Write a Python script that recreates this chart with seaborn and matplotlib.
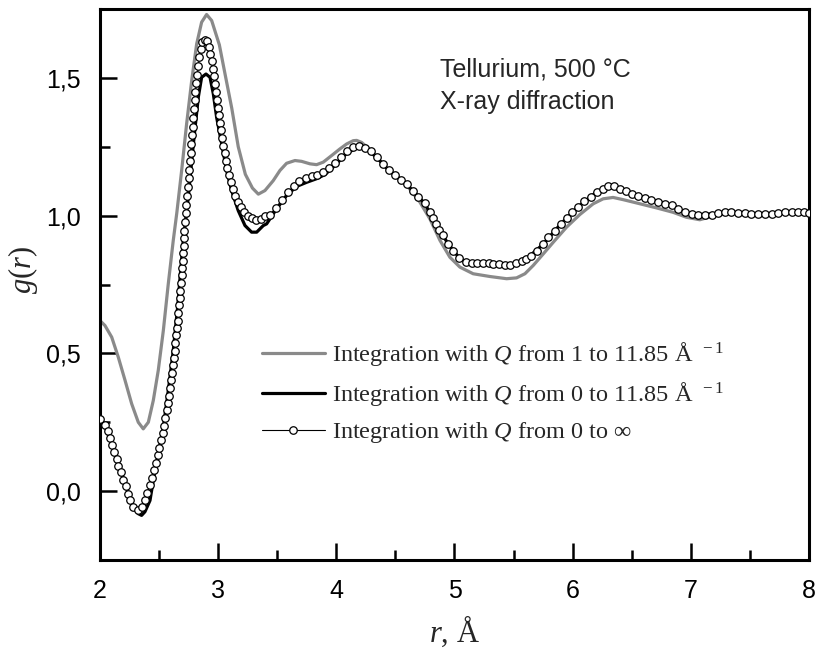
import matplotlib
matplotlib.use("Agg")
import matplotlib.pyplot as plt
import seaborn as sns
import numpy as np
from matplotlib.ticker import MultipleLocator, FuncFormatter
from matplotlib.font_manager import FontProperties

# ---------------- data ----------------
# Integration with Q from 1 to 11.85 A^-1 (grey line)
r_gray = [2.000, 2.042, 2.099, 2.155, 2.212, 2.268, 2.324, 2.366, 2.409, 2.451, 2.493,
          2.536, 2.578, 2.620, 2.650, 2.691, 2.733, 2.776, 2.818, 2.860, 2.902, 2.945,
          3.010, 3.060, 3.115, 3.170, 3.230, 3.290, 3.340, 3.396, 3.466, 3.523, 3.579,
          3.650, 3.706, 3.777, 3.833, 3.889, 3.960, 4.030, 4.087, 4.143, 4.172, 4.213,
          4.310, 4.390, 4.500, 4.600, 4.707, 4.792, 4.877, 4.961, 5.046, 5.158, 5.300,
          5.441, 5.525, 5.596, 5.666, 5.751, 5.835, 5.948, 6.061, 6.174, 6.258, 6.342,
          6.427, 6.569, 6.710, 6.850, 6.963, 7.076, 7.200, 7.350, 7.500, 7.650, 7.800, 8.000]
g_gray = [0.619, 0.601, 0.559, 0.486, 0.402, 0.317, 0.250, 0.226, 0.250, 0.329, 0.438,
          0.583, 0.753, 0.910, 1.010, 1.164, 1.333, 1.490, 1.623, 1.702, 1.730, 1.708,
          1.620, 1.510, 1.390, 1.250, 1.150, 1.100, 1.078, 1.091, 1.127, 1.164, 1.190,
          1.200, 1.197, 1.188, 1.185, 1.194, 1.218, 1.242, 1.260, 1.272, 1.273, 1.266,
          1.230, 1.188, 1.144, 1.108, 1.049, 0.988, 0.910, 0.849, 0.813, 0.789, 0.779,
          0.771, 0.774, 0.789, 0.819, 0.861, 0.903, 0.958, 1.004, 1.043, 1.061, 1.066,
          1.058, 1.043, 1.028, 1.012, 0.994, 0.985, 1.000, 1.009, 1.004, 1.004, 1.010, 1.008]

# Integration with Q from 0 to 11.85 A^-1 (black line)
r_black = [2.000, 2.042, 2.127, 2.212, 2.282, 2.324, 2.352, 2.380, 2.423, 2.451, 2.493,
           2.536, 2.578, 2.620, 2.657, 2.685, 2.705, 2.747, 2.790, 2.832, 2.860, 2.897,
           2.931, 2.959, 2.987, 3.030, 3.072, 3.114, 3.170, 3.227, 3.283, 3.326, 3.382,
           3.410, 3.495, 3.579, 3.664, 3.749, 3.833, 3.904, 3.988, 4.087, 4.172, 4.242,
           4.340, 4.440, 4.550, 4.650, 4.750, 4.840, 4.950, 5.040, 5.100, 5.300, 5.500,
           5.600, 5.750, 5.900, 6.050, 6.200, 6.320, 6.450, 6.600, 6.800, 6.950, 7.100,
           7.300, 7.500, 7.700, 7.900, 8.000]
g_black = [0.262, 0.238, 0.136, 0.027, -0.058, -0.082, -0.088, -0.075, -0.034, 0.039, 0.136,
           0.232, 0.365, 0.510, 0.668, 0.813, 0.910, 1.067, 1.260, 1.430, 1.502, 1.514,
           1.502, 1.442, 1.357, 1.260, 1.164, 1.091, 1.018, 0.964, 0.940, 0.940, 0.964,
           0.970, 1.025, 1.073, 1.106, 1.121, 1.134, 1.149, 1.182, 1.226, 1.246, 1.246,
           1.212, 1.166, 1.130, 1.090, 1.043, 0.970, 0.895, 0.847, 0.830, 0.826, 0.823,
           0.840, 0.896, 0.970, 1.033, 1.085, 1.105, 1.085, 1.066, 1.043, 1.012, 1.003,
           1.012, 1.007, 1.006, 1.012, 1.009]

# Integration with Q from 0 to infinity (open circles)
r_inf = [2.000, 2.042, 2.065, 2.085, 2.104, 2.121, 2.141, 2.155, 2.175, 2.197, 2.217,
         2.240, 2.254, 2.282, 2.324, 2.357, 2.381, 2.400, 2.423, 2.443, 2.459, 2.474,
         2.488, 2.502, 2.516, 2.530, 2.541, 2.552, 2.564, 2.572, 2.584, 2.592, 2.601,
         2.609, 2.618, 2.623, 2.632, 2.637, 2.646, 2.651, 2.657, 2.663, 2.668, 2.674,
         2.679, 2.685, 2.691, 2.696, 2.699, 2.705, 2.708, 2.709, 2.713, 2.719, 2.725,
         2.730, 2.736, 2.742, 2.750, 2.756, 2.761, 2.767, 2.773, 2.778, 2.784, 2.790,
         2.795, 2.801, 2.806, 2.815, 2.823, 2.832, 2.840, 2.852, 2.866, 2.886, 2.905,
         2.922, 2.933, 2.945, 2.953, 2.962, 2.970, 2.979, 2.987, 2.996, 3.004, 3.013,
         3.023, 3.032, 3.043, 3.055, 3.066, 3.077, 3.091, 3.106, 3.122, 3.142, 3.164,
         3.190, 3.218, 3.249, 3.283, 3.320, 3.359, 3.398, 3.438, 3.489, 3.537, 3.593,
         3.641, 3.686, 3.743, 3.791, 3.838, 3.889, 3.937, 3.988, 4.039, 4.087, 4.137,
         4.191, 4.242, 4.290, 4.341, 4.391, 4.445, 4.496, 4.544, 4.595, 4.645, 4.693,
         4.750, 4.792, 4.818, 4.843, 4.872, 4.900, 4.947, 4.990, 5.040, 5.096, 5.145,
         5.190, 5.240, 5.290, 5.330, 5.380, 5.430, 5.470, 5.520, 5.570, 5.608, 5.646,
         5.694, 5.745, 5.793, 5.850, 5.900, 5.948, 5.998, 6.046, 6.097, 6.151, 6.202,
         6.253, 6.300, 6.351, 6.400, 6.450, 6.498, 6.554, 6.611, 6.667, 6.724, 6.780,
         6.837, 6.893, 6.949, 7.006, 7.062, 7.119, 7.175, 7.231, 7.288, 7.344, 7.400,
         7.457, 7.513, 7.570, 7.626, 7.683, 7.739, 7.795, 7.852, 7.908, 7.956, 8.000]
g_inf = [0.263, 0.241, 0.218, 0.194, 0.168, 0.142, 0.118, 0.093, 0.069, 0.041, 0.017,
         -0.010, -0.034, -0.058, -0.068, -0.058, -0.031, -0.007, 0.021, 0.049, 0.075, 0.102,
         0.130, 0.157, 0.184, 0.210, 0.238, 0.266, 0.293, 0.319, 0.347, 0.375, 0.402,
         0.428, 0.456, 0.484, 0.510, 0.537, 0.565, 0.593, 0.619, 0.646, 0.674, 0.702,
         0.728, 0.755, 0.783, 0.811, 0.837, 0.865, 0.891, 0.918, 0.946, 0.976, 1.009,
         1.040, 1.072, 1.103, 1.135, 1.166, 1.197, 1.229, 1.260, 1.292, 1.323, 1.355,
         1.386, 1.418, 1.449, 1.480, 1.512, 1.543, 1.575, 1.605, 1.629, 1.639, 1.633,
         1.611, 1.587, 1.560, 1.533, 1.505, 1.476, 1.448, 1.420, 1.392, 1.364, 1.337,
         1.309, 1.281, 1.254, 1.226, 1.200, 1.173, 1.147, 1.121, 1.097, 1.073, 1.051,
         1.030, 1.014, 1.000, 0.991, 0.985, 0.986, 0.997, 1.004, 1.028, 1.055, 1.085,
         1.109, 1.125, 1.137, 1.143, 1.149, 1.157, 1.173, 1.190, 1.212, 1.234, 1.248,
         1.251, 1.246, 1.234, 1.212, 1.188, 1.164, 1.146, 1.130, 1.113, 1.091, 1.069,
         1.045, 1.012, 0.991, 0.970, 0.949, 0.928, 0.898, 0.871, 0.847, 0.831, 0.827,
         0.827, 0.827, 0.827, 0.825, 0.825, 0.821, 0.822, 0.827, 0.834, 0.842, 0.853,
         0.873, 0.898, 0.922, 0.946, 0.970, 0.992, 1.012, 1.033, 1.052, 1.069, 1.085,
         1.097, 1.106, 1.106, 1.097, 1.088, 1.080, 1.073, 1.065, 1.057, 1.049, 1.043,
         1.037, 1.025, 1.012, 1.006, 1.003, 1.003, 1.004, 1.009, 1.012, 1.012, 1.010,
         1.009, 1.006, 1.006, 1.006, 1.006, 1.009, 1.012, 1.012, 1.012, 1.012, 1.009]

labels = [r"Integration with $Q$ from 1 to 11.85 Å$^{\ \ -1}$",
          r"Integration with $Q$ from 0 to 11.85 Å$^{\ \ -1}$",
          r"Integration with $Q$ from 0 to ∞"]
annot_lines = ["Tellurium, 500 °C", "X-ray diffraction"]
x_ticks = [2, 3, 4, 5, 6, 7, 8]
y_ticks = [0.0, 0.5, 1.0, 1.5]

# ---------------- style ----------------
sns.set_style("ticks")
plt.rcParams["font.family"] = ["Liberation Sans", "DejaVu Sans"]
plt.rcParams["mathtext.fontset"] = "custom"
plt.rcParams["mathtext.rm"] = "Liberation Serif"
plt.rcParams["mathtext.it"] = "Liberation Serif:italic"
plt.rcParams["mathtext.bf"] = "Liberation Serif:bold"

fig = plt.figure(figsize=(8.18, 6.49), dpi=100)
ax = fig.add_axes([100 / 818, 1 - 560 / 649, 709 / 818, 551 / 649])

sns.lineplot(x=r_gray, y=g_gray, ax=ax, color="#8a8a8a", linewidth=2.3,
             estimator=None, sort=False, zorder=2, label=labels[0])
sns.lineplot(x=r_black, y=g_black, ax=ax, color="black", linewidth=2.3,
             estimator=None, sort=False, zorder=3, label=labels[1])
sns.lineplot(x=r_inf, y=g_inf, ax=ax, color="black", linewidth=0.8,
             marker="o", markersize=5.4, markerfacecolor="white",
             markeredgecolor="black", markeredgewidth=0.9,
             estimator=None, sort=False, zorder=4, label=labels[2])

ax.set_xlim(2, 8)
ax.set_ylim(-0.25, 1.75)
ax.xaxis.set_minor_locator(MultipleLocator(0.5))
ax.yaxis.set_minor_locator(MultipleLocator(0.25))
ax.set_xticks(x_ticks)
ax.set_yticks(y_ticks)
ax.xaxis.set_major_formatter(FuncFormatter(lambda v, _: f"{v:.0f}"))
ax.yaxis.set_major_formatter(FuncFormatter(lambda v, _: f"{v:.1f}".replace(".", ",")))

for s in ax.spines.values():
    s.set_linewidth(2.2)
    s.set_color("black")
    s.set_visible(True)
ax.tick_params(which="both", direction="in", top=False, right=False, width=1.8,
               colors="black", labelsize=18)
ax.tick_params(which="major", length=12)
ax.tick_params(which="minor", length=7)
ax.tick_params(axis="x", which="major", pad=13.5)
ax.tick_params(axis="y", which="major", pad=14)

ax.set_xlabel(r"$r$, Å", fontsize=22, family="Liberation Serif", labelpad=8)
ax.set_ylabel(r"$g(r)$", fontsize=22, family="Liberation Serif", labelpad=10)
ax.yaxis.set_label_coords(-0.085, 0.526)

ax.text(4.877, 1.505, annot_lines[0], fontsize=18, va="baseline", ha="left")
ax.text(4.877, 1.388, annot_lines[1], fontsize=18, va="baseline", ha="left")

leg = ax.legend(loc="upper left", bbox_to_anchor=(0.228, 0.399), frameon=False,
                prop=FontProperties(family="Liberation Serif", size=17.5),
                handlelength=2.6, handletextpad=0.3, labelspacing=0.5,
                borderpad=0, borderaxespad=0)

fig.savefig("out.png", dpi=100)
